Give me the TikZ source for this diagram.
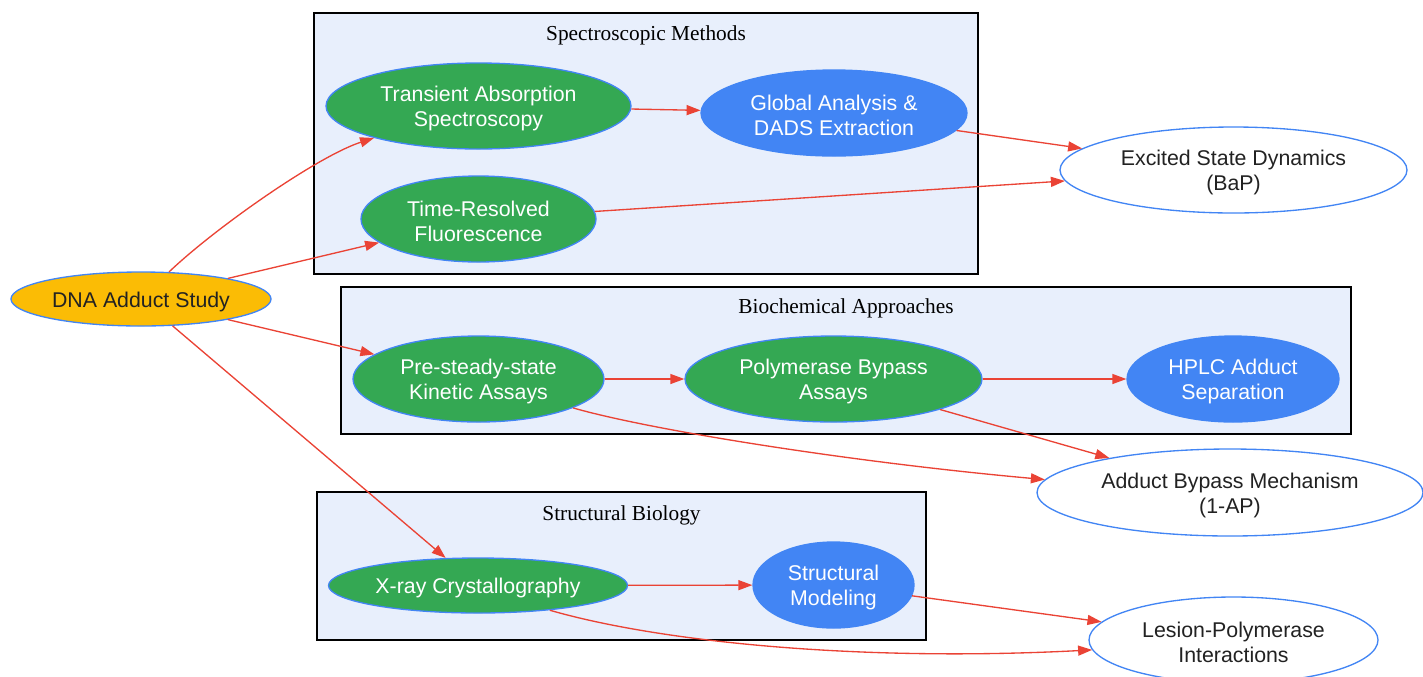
\documentclass[tikz,border=0pt]{standalone}
\usepackage{fontspec}
\setmainfont{Liberation Sans}
\newfontfamily\clusterfont{Liberation Serif}
\usetikzlibrary{shapes.geometric,arrows.meta}
\definecolor{cgold}{HTML}{FBBC05}
\definecolor{cgreen}{HTML}{34A853}
\definecolor{cblue}{HTML}{4285F4}
\definecolor{cred}{HTML}{EA4335}
\definecolor{cfill}{HTML}{E8EFFC}
\definecolor{ctext}{HTML}{222222}
\begin{document}
\begin{tikzpicture}[x=0.75pt,y=-0.75pt,
  sz/.style 2 args={minimum width=#1*0.75pt, minimum height=#2*0.75pt},
  ell/.style={ellipse, draw=cblue, line width=1pt, inner sep=0pt},
  nodetext/.style={inner sep=0pt, align=center, yshift=-2pt,
    font=\fontsize{16}{18.75}\selectfont},
  txt/.style={label={[nodetext, text=#1]center:{\nodelabel}}},
  startnode/.style={ell, fill=cgold},
  methodnode/.style={ell, fill=cgreen},
  analysisnode/.style={ell, fill=cblue},
  outcomenode/.style={ell, fill=white},
  clusterbox/.style={draw=black, fill=cfill, line width=1pt},
  clusterlabel/.style={font=\clusterfont\fontsize{16}{18.75}\selectfont, text=black, inner sep=0pt, yshift=-1.5pt},
  edge/.style={draw=cred, line width=1pt, -{Triangle[length=10.5pt,width=7.5pt]}}
]
\useasboundingbox (0,0) rectangle (1423,676);

% clusters
\draw[clusterbox] (314,13) rectangle (978,274);
\node[clusterlabel] (lspec) at (646,33) {Spectroscopic Methods};
\draw[clusterbox] (341,287) rectangle (1351,434);
\node[clusterlabel] (lbio) at (846,306) {Biochemical Approaches};
\draw[clusterbox] (317,492) rectangle (926,640);
\node[clusterlabel] (lstr) at (621.5,513) {Structural Biology};

% nodes
\node[startnode, sz={260}{54},
  label={[nodetext, text=ctext]center:{DNA Adduct Study}}] (dna) at (141,299) {};
\node[methodnode, sz={305}{86},
  label={[nodetext, text=white]center:{Transient Absorption\\Spectroscopy}}] (tas) at (478.5,106) {};
\node[analysisnode, sz={266}{86},
  label={[nodetext, text=white]center:{Global Analysis \&\\DADS Extraction}}] (ga) at (834,113) {};
\node[methodnode, sz={235}{86},
  label={[nodetext, text=white]center:{Time-Resolved\\Fluorescence}}] (trf) at (478.5,219) {};
\node[outcomenode, sz={347}{86},
  label={[nodetext, text=ctext]center:{Excited State Dynamics\\(BaP)}}] (esd) at (1233.5,170) {};
\node[methodnode, sz={251}{86},
  label={[nodetext, text=white]center:{Pre-steady-state\\Kinetic Assays}}] (pss) at (478.5,379) {};
\node[methodnode, sz={297}{86},
  label={[nodetext, text=white]center:{Polymerase Bypass\\Assays}}] (pba) at (833.5,379) {};
\node[analysisnode, sz={212}{86},
  label={[nodetext, text=white]center:{HPLC Adduct\\Separation}}] (hplc) at (1233,379) {};
\node[outcomenode, sz={386}{87},
  label={[nodetext, text=ctext]center:{Adduct Bypass Mechanism\\(1-AP)}}] (abm) at (1230,492.5) {};
\node[methodnode, sz={299}{55},
  label={[nodetext, text=white]center:{X-ray Crystallography}}] (xray) at (478,585.5) {};
\node[analysisnode, sz={161}{86},
  label={[nodetext, text=white]center:{Structural\\Modeling}}] (sm) at (833.5,585) {};
\node[outcomenode, sz={289}{86},
  label={[nodetext, text=ctext]center:{Lesion-Polymerase\\Interactions}}] (lpi) at (1233.5,640) {};

% edges
\draw[edge] (dna.44) .. controls (215,228) and (318,156) .. (tas.197);
\draw[edge] (dna) -- (trf);
\draw[edge] (dna) -- (pss);
\draw[edge] (dna) -- (xray);
\draw[edge] (tas) -- (ga);
\draw[edge] (ga) -- (esd);
\draw[edge] (trf) -- (esd);
\draw[edge] (pss) -- (pba);
\draw[edge] (pba) -- (hplc);
\draw[edge] (pss.343.6) .. controls (650,430) and (850,462) .. (abm.176);
\draw[edge] (pba) -- (abm);
\draw[edge] (xray) -- (sm);
\draw[edge] (sm) -- (lpi);
\draw[edge] (xray.341.6) .. controls (660,642) and (860,662) .. (lpi.184.4);
\end{tikzpicture}
\end{document}
